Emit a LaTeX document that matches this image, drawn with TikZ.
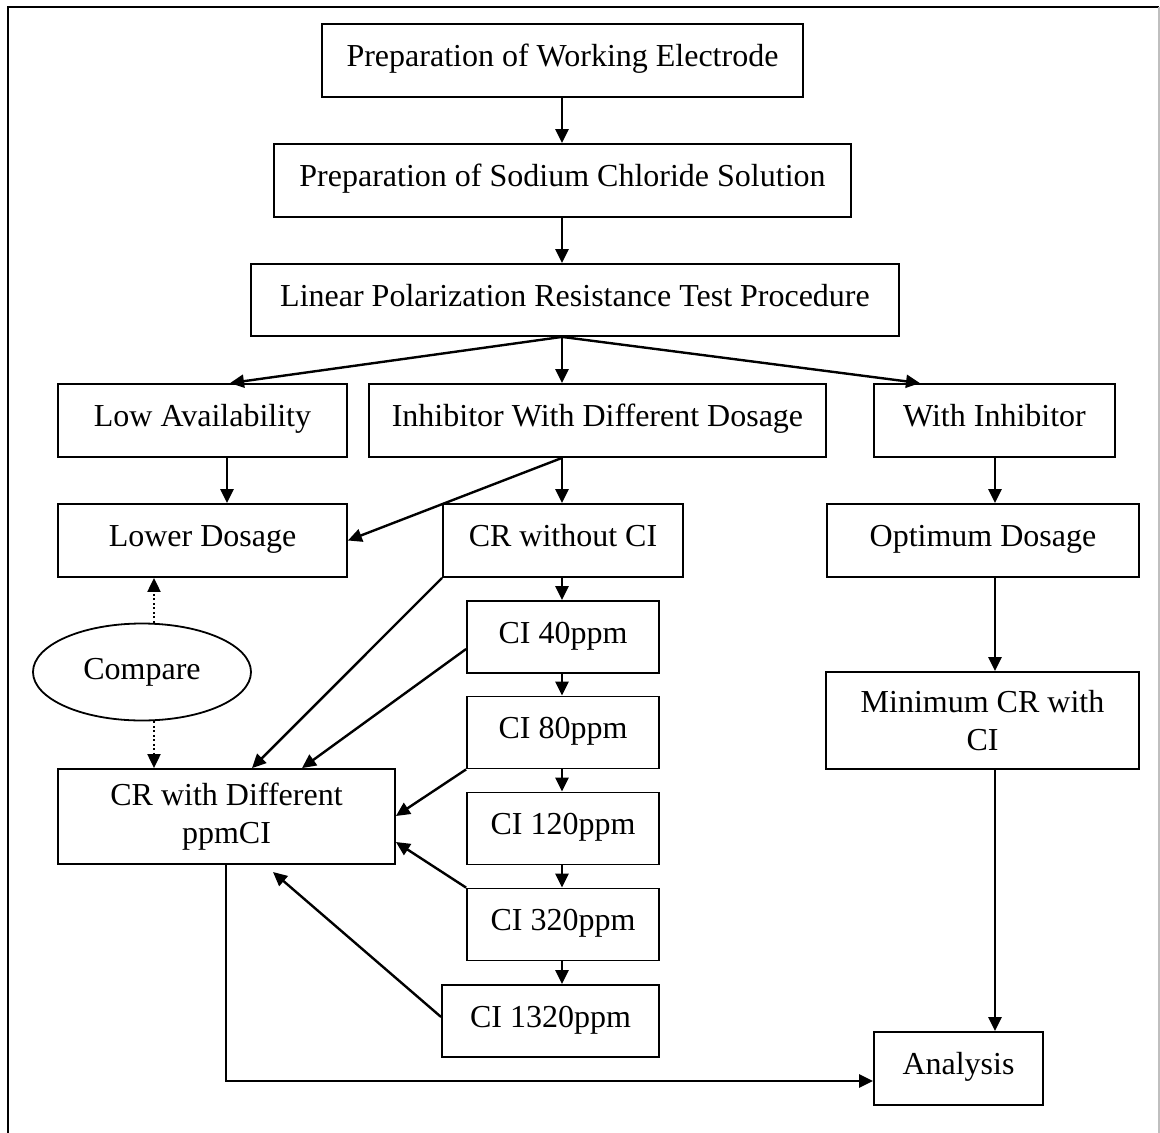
\documentclass[tikz,border=0pt]{standalone}
\usepackage{fontspec}
\setmainfont{Liberation Serif}
\usetikzlibrary{arrows.meta,shapes.geometric}
\begin{document}
\begin{tikzpicture}[x=1pt,y=-1pt,
  font=\fontsize{32}{38}\selectfont,
  box/.style={draw,line width=1.8pt,inner sep=0pt,text height=22pt,text depth=10pt},
  box2/.style={draw,line width=1.8pt,inner sep=0pt,align=center},
  oval/.style={draw,line width=1.8pt,ellipse,inner sep=0pt},
  arr/.style={line width=2.4pt,-{Triangle[length=14pt,width=13pt]}},
  dotarr/.style={line width=2pt,dash pattern=on 2pt off 2.5pt,-{Triangle[length=14pt,width=13pt]}},
  frame/.style={line width=2.2pt}]
\useasboundingbox (0,0) rectangle (1160,1133);
% outer frame
\draw[frame] (8,1133) -- (8,7) -- (1159,7);
\draw[line width=1.4pt,black!25] (1159,7) -- (1159,1133);
% nodes
\node[box,minimum width=481pt,minimum height=73pt] (b1) at (562.5,60.5) {Preparation of Working Electrode};
\node[box,minimum width=577pt,minimum height=73pt] (b2) at (562.5,180.5) {Preparation of Sodium Chloride Solution};
\node[box,minimum width=648pt,minimum height=72pt] (b3) at (575,300) {Linear Polarization Resistance Test Procedure};
\node[box,minimum width=289pt,minimum height=73pt] (lowav) at (202.5,420.5) {Low Availability};
\node[box,minimum width=457pt,minimum height=73pt] (inhib) at (597.5,420.5) {Inhibitor With Different Dosage};
\node[box,minimum width=241pt,minimum height=73pt] (withinh) at (994.5,420.5) {With Inhibitor};
\node[box,minimum width=289pt,minimum height=73pt] (lowdose) at (202.5,540.5) {Lower Dosage};
\node[box,minimum width=240pt,minimum height=73pt] (crwo) at (563,540.5) {CR without CI};
\node[box,minimum width=312pt,minimum height=73pt] (optim) at (983,540.5) {Optimum Dosage};
\node[box,minimum width=192pt,minimum height=72pt] (ci40) at (563,637) {CI 40ppm};
\node[box,minimum width=192pt,minimum height=72pt] (ci80) at (563,732.5) {CI 80ppm};
\node[box,minimum width=192pt,minimum height=72pt] (ci120) at (563,828.5) {CI 120ppm};
\node[box,minimum width=192pt,minimum height=72pt] (ci320) at (563,924.5) {CI 320ppm};
\node[box,minimum width=217pt,minimum height=72pt] (ci1320) at (550.5,1021) {CI 1320ppm};
\node[oval,minimum width=218pt,minimum height=97pt] (cmp) at (142,672) {Compare};
\node[box2,minimum width=337pt,minimum height=95pt] (crdiff) at (226.5,816.5) {CR with Different\\ppmCI};
\node[box2,minimum width=313pt,minimum height=97pt] (mincr) at (982.5,720.5) {Minimum CR with\\CI};
\node[box,minimum width=169pt,minimum height=73pt] (anal) at (958.5,1068.5) {Analysis};
% free end
\coordinate (free) at (273,872);
% connectors
\draw[arr] (b1.south -| 562,0) -- (b2.north -| 562,0);
\draw[arr] (b2.south -| 562,0) -- (b3.north -| 562,0);
\draw[arr] (b3.south -| 562,0) -- (lowav.north -| 230,0);
\draw[arr] (b3.south -| 562,0) -- (inhib.north -| 562,0);
\draw[arr] (b3.south -| 562,0) -- (withinh.north -| 920,0);
\draw[arr] (lowav.south -| 227,0) -- (lowdose.north -| 227,0);
\draw[arr] (inhib.south -| 562,0) -- (crwo.north -| 562,0);
\draw[arr] (inhib.south -| 562,0) -- (lowdose.east);
\draw[arr] (withinh.south -| 995,0) -- (optim.north -| 995,0);
\draw[arr] (optim.south -| 995,0) -- (mincr.north -| 995,0);
\draw[arr] (mincr.south -| 995,0) -- (anal.north -| 995,0);
\draw[arr] (crwo.south -| 562,0) -- (ci40.north -| 562,0);
\draw[arr] (ci40.south -| 562,0) -- (ci80.north -| 562,0);
\draw[arr] (ci80.south -| 562,0) -- (ci120.north -| 562,0);
\draw[arr] (ci120.south -| 562,0) -- (ci320.north -| 562,0);
\draw[arr] (ci320.south -| 562,0) -- (ci1320.north -| 562,0);
\draw[dotarr] (cmp.north -| 154,0) -- (lowdose.south -| 154,0);
\draw[dotarr] (cmp.south -| 154,0) -- (crdiff.north -| 154,0);
\draw[arr] (crwo.south west) -- (crdiff.north -| 252,0);
\draw[arr] (ci40.west |- 0,649) -- (crdiff.north -| 302,0);
\draw[arr] (ci80.south west) -- (crdiff.east |- 0,816);
\draw[arr] (ci320.north west) -- (crdiff.east |- 0,842);
\draw[arr] (ci1320.west |- 0,1017) -- (free);
\draw[arr] (crdiff.south -| 226,0) -- (226,1081) -- (anal.west |- 0,1081);
\end{tikzpicture}
\end{document}
